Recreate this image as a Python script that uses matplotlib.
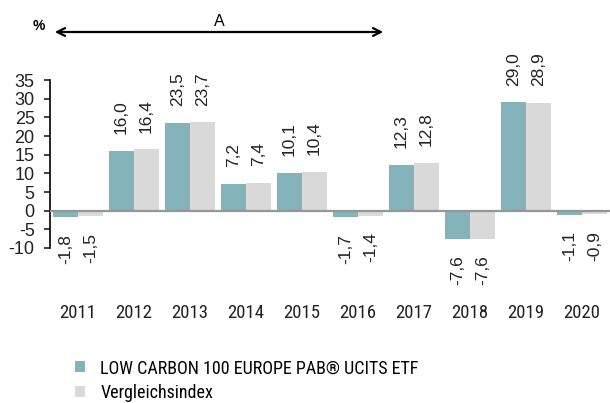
import numpy as np
import matplotlib
matplotlib.use("Agg")
import matplotlib.pyplot as plt
from matplotlib.patches import Patch, FancyArrowPatch

# data
years = ["2011", "2012", "2013", "2014", "2015", "2016", "2017", "2018", "2019", "2020"]
etf = [-1.8, 16.0, 23.5, 7.2, 10.1, -1.7, 12.3, -7.6, 29.0, -1.1]
index = [-1.5, 16.4, 23.7, 7.4, 10.4, -1.4, 12.8, -7.6, 28.9, -0.9]
yticks = [-10, -5, 0, 5, 10, 15, 20, 25, 30, 35]
legend_labels = ["LOW CARBON 100 EUROPE PAB® UCITS ETF", "Vergleichsindex"]

teal = "#84B4BA"
grey = "#D9D9D9"
num_font = "Liberation Sans"
text_font = "Roboto Condensed"

fig = plt.figure(figsize=(6.1, 4.03), dpi=100)
ax = fig.add_axes([50 / 610, 1 - 248 / 403, 560 / 610, 168 / 403])

x = np.arange(len(years))
w = 0.446
bars1 = ax.bar(x - w / 2, etf, w, color=teal, zorder=2)
bars2 = ax.bar(x + w / 2, index, w, color=grey, zorder=2)

# value labels, rotated, above positive bars / below negative ones
for bars, vals in ((bars1, etf), (bars2, index)):
    for b, v in zip(bars, vals):
        txt = f"{v:.1f}".replace(".", ",")
        off = 12 if v >= 0 else -12
        ax.annotate(txt, (b.get_x() + b.get_width() / 2, v),
                    xytext=(0, off), textcoords="offset points",
                    rotation=90, ha="center", va="bottom" if v >= 0 else "top",
                    fontsize=12.5, family=num_font, color="#222222")

ax.axhline(0, color="#969696", lw=1.6, zorder=3)

ax.set_xlim(-0.5, len(years) - 0.5)
ax.set_ylim(-10, 35)
ax.set_yticks(yticks)
ax.set_yticklabels([str(t) for t in yticks], family=num_font, fontsize=13)
ax.set_xticks(x)
ax.set_xticklabels(years, family=text_font, fontsize=13.5)

for s in ("top", "right", "bottom"):
    ax.spines[s].set_visible(False)
ax.spines["left"].set_linewidth(1.2)
ax.tick_params(axis="y", length=4, width=1.2, pad=7, colors="#222222")
ax.tick_params(axis="x", length=0, pad=40, colors="#222222")

# arrow over the period marked "A"
fig.patches.append(FancyArrowPatch(
    (52 / 610, 1 - 32 / 403), (386 / 610, 1 - 32 / 403),
    transform=fig.transFigure, arrowstyle="<->", mutation_scale=14,
    lw=1.6, color="black"))
fig.text(219 / 610, 1 - 21.5 / 403, "A", ha="center", va="center",
         fontsize=11.5, family=num_font)
fig.text(39 / 610, 1 - 26 / 403, "%", ha="center", va="center",
         fontsize=10, weight="bold", family=num_font)

handles = [Patch(facecolor=teal), Patch(facecolor=grey)]
fig.legend(handles, legend_labels, loc="upper left",
           bbox_to_anchor=(68 / 610, 1 - 352 / 403), frameon=False,
           prop={"family": text_font, "size": 13},
           handlelength=0.55, handleheight=0.55, handletextpad=0.85,
           labelspacing=0.35, borderaxespad=0)

fig.savefig("out.png", dpi=100)
